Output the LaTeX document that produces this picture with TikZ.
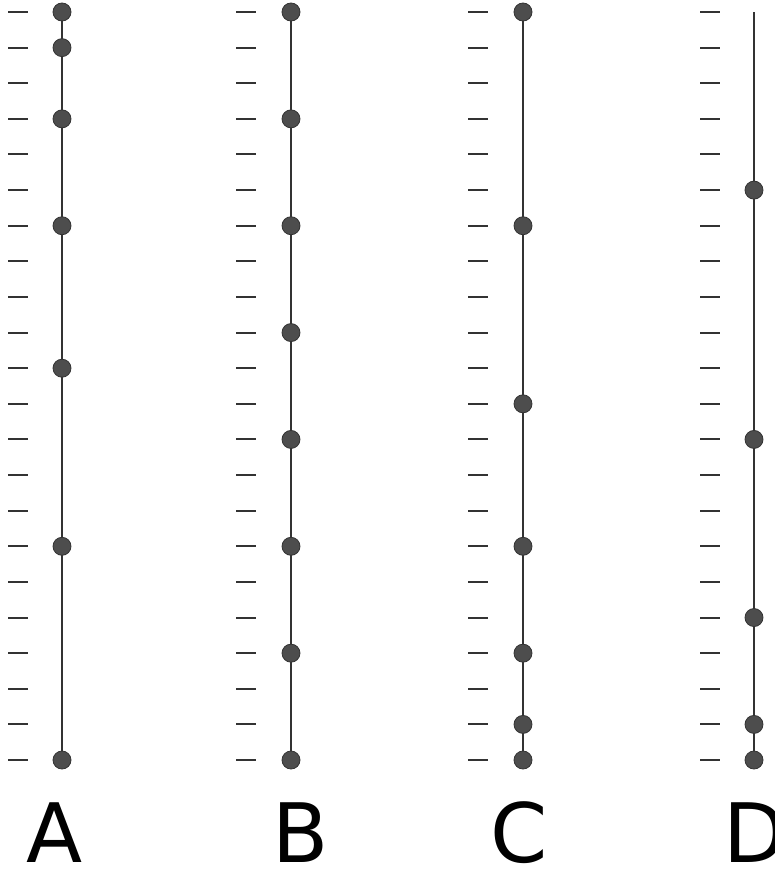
\documentclass[tikz,border=0pt]{standalone}
\usepackage{fontspec}
\setmainfont{DejaVu Sans}
\usetikzlibrary{backgrounds}
\definecolor{dotfill}{HTML}{4D4D4D}
\definecolor{inkline}{HTML}{333333}
\tikzset{
  dot/.style={circle, fill=dotfill, draw=inkline, line width=0.8pt, minimum size=18pt, inner sep=0pt},
  stem/.style={draw=inkline, line width=2pt},
  tick/.style={draw=inkline, line width=2pt},
  lab/.style={font=\fontsize{82}{90}\selectfont, text=black, anchor=base, inner sep=0pt, text depth=0pt, text height=60pt}
}
\begin{document}
\begin{tikzpicture}[x=1pt,y=-1pt]
\useasboundingbox (0,0) rectangle (774,870);
\begin{scope}
\clip (0,0) rectangle (774,870);
% tick marks
\foreach \tx in {8,236,468,700}{
  \foreach \i in {0,...,21}{
    \draw[tick] (\tx,{12+\i*35.62}) -- ++(20,0);
  }
}
% column A
\foreach \i in {0,1,3,6,10,15,21}{
  \node[dot] (a\i) at (62,{12+\i*35.62}) {};
}
% column B
\foreach \i in {0,3,6,9,12,15,18,21}{
  \node[dot] (b\i) at (291,{12+\i*35.62}) {};
}
% column C
\foreach \i in {0,6,11,15,18,20,21}{
  \node[dot] (c\i) at (523,{12+\i*35.62}) {};
}
% column D
\coordinate (dtop) at (754,12);
\foreach \i in {5,12,17,20,21}{
  \node[dot] (d\i) at (754,{12+\i*35.62}) {};
}
\begin{scope}[on background layer]
  \draw[stem] (a0.center) -- (a21.center);
  \draw[stem] (b0.center) -- (b21.center);
  \draw[stem] (c0.center) -- (c21.center);
  \draw[stem] (dtop) -- (d21.center);
\end{scope}
% labels
\node[lab] (la) at (54.5,862) {A};
\node[lab] (lb) at (301,862) {B};
\node[lab] (lc) at (519,862) {C};
\node[lab] (ld) at (755,862) {D};
\end{scope}
\end{tikzpicture}
\end{document}
